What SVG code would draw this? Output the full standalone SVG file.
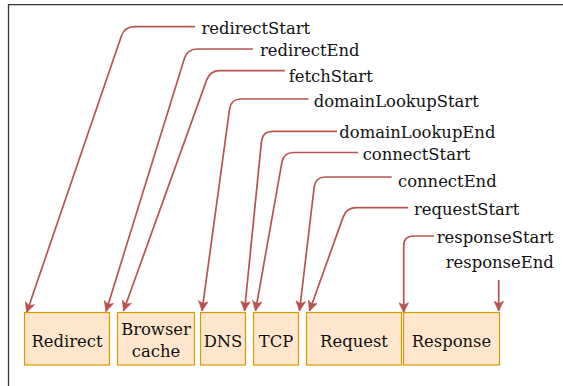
<svg xmlns="http://www.w3.org/2000/svg" width="563" height="386" viewBox="0 0 563 386">
<defs>
<style>
.box{fill:#ffe6cc;stroke:#d79b00;stroke-width:1.2}
.t{font-family:"DejaVu Serif","Liberation Serif",serif;font-size:16.4px;fill:#111}
.bt{font-family:"DejaVu Serif","Liberation Serif",serif;font-size:16.4px;fill:#111;text-anchor:middle}
.c{fill:none;stroke:#b85450;stroke-width:1.7;marker-end:url(#ah)}
</style>
<marker id="ah" viewBox="0 0 10 10" refX="10" refY="5" markerWidth="11" markerHeight="10" markerUnits="userSpaceOnUse" orient="auto">
<path d="M0,0 L10,5 L0,10 L2.5,5 z" fill="#b85450" stroke="#b85450" stroke-width="0.5"/>
</marker>
</defs>
<rect width="563" height="386" fill="#ffffff"/>
<path d="M8.5,386 V4.7 H563" fill="none" stroke="#333" stroke-width="1.3"/>

<g id="connectors">
<path class="c" d="M195,26.7 H134.5 Q124.5,26.7 121.3,36.2 L26.7,312.5"/>
<path class="c" d="M253,49 H197.4 Q187.4,49 184.4,58.6 L106,311.5"/>
<path class="c" d="M285,70.7 H220 Q210,70.7 206.6,80.1 L123.5,311"/>
<path class="c" d="M308.7,99 H241 Q231,99 229.6,108.9 L202,311"/>
<path class="c" d="M337,131.3 H272.5 Q262.5,131.3 261.5,141.2 L244.5,311"/>
<path class="c" d="M358,152.5 H293.6 Q283.6,152.5 281.9,162.3 L255.5,311"/>
<path class="c" d="M391.7,177 H325.4 Q315.4,177 314.2,186.9 L299.5,311"/>
<path class="c" d="M408,207.7 H356.5 Q346.5,207.7 343.1,217.1 L309.5,311"/>
<path class="c" d="M434,236 H413.7 Q403.7,236 403.7,246 V312.5"/>
<path class="c" d="M498.7,280 V311"/>
</g>

<g id="labels">
<text class="t" x="201.5" y="34">redirectStart</text>
<text class="t" x="260" y="55.5">redirectEnd</text>
<text class="t" x="288.7" y="81.5">fetchStart</text>
<text class="t" x="313.7" y="106.5">domainLookupStart</text>
<text class="t" x="339.3" y="138">domainLookupEnd</text>
<text class="t" x="362.7" y="160">connectStart</text>
<text class="t" x="398" y="186.5">connectEnd</text>
<text class="t" x="414" y="215">requestStart</text>
<text class="t" x="436.7" y="243.3">responseStart</text>
<text class="t" x="445.7" y="268.3">responseEnd</text>
</g>

<g id="redirect"><rect class="box" x="24.5" y="312.5" width="85" height="52.5"/><text class="bt" x="67" y="346.7">Redirect</text></g>
<g id="browser-cache"><rect class="box" x="117.5" y="312.5" width="77" height="52.5"/><text class="bt" x="156" y="335">Browser</text><text class="bt" x="156" y="356.7">cache</text></g>
<g id="dns"><rect class="box" x="200.5" y="312.5" width="45" height="52.5"/><text class="bt" x="223" y="346.7">DNS</text></g>
<g id="tcp"><rect class="box" x="253.5" y="312.5" width="45" height="52.5"/><text class="bt" x="276" y="346.7">TCP</text></g>
<g id="request"><rect class="box" x="306.5" y="312.5" width="95" height="52.5"/><text class="bt" x="354" y="346.7">Request</text></g>
<g id="response"><rect class="box" x="403.5" y="312.5" width="96" height="52.5"/><text class="bt" x="451.5" y="346.7">Response</text></g>
</svg>
